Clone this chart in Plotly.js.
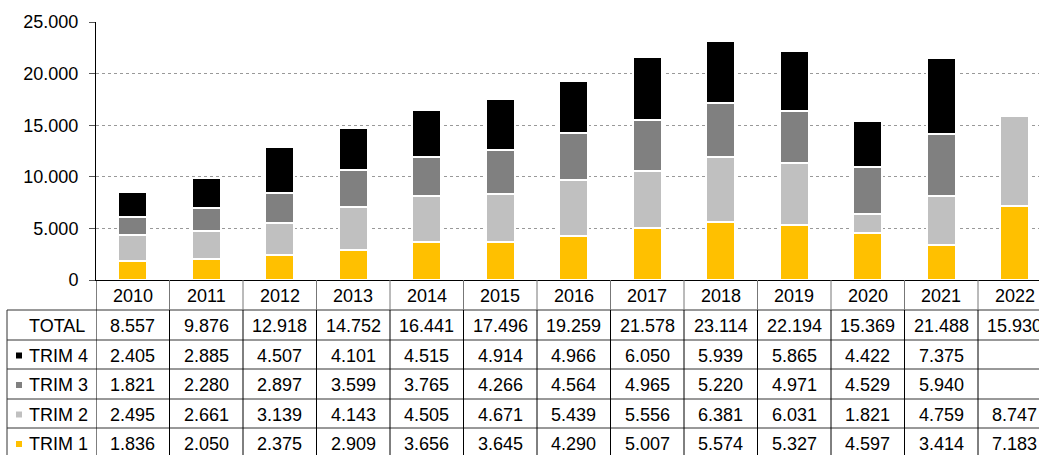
<!DOCTYPE html>
<html>
<head>
<meta charset="utf-8">
<script src="https://cdn.plot.ly/plotly-3.0.1.min.js"></script>
<style>html,body{margin:0;padding:0;background:#fff;}#chart{width:1039px;height:455px;}</style>
</head>
<body>
<div id="chart"></div>
<script>
const years = ['2010','2011','2012','2013','2014','2015','2016','2017','2018','2019','2020','2021','2022'];
const trim1 = [1836, 2050, 2375, 2909, 3656, 3645, 4290, 5007, 5574, 5327, 4597, 3414, 7183];
const trim2 = [2495, 2661, 3139, 4143, 4505, 4671, 5439, 5556, 6381, 6031, 1821, 4759, 8747];
const trim3 = [1821, 2280, 2897, 3599, 3765, 4266, 4564, 4965, 5220, 4971, 4529, 5940, null];
const trim4 = [2405, 2885, 4507, 4101, 4515, 4914, 4966, 6050, 5939, 5865, 4422, 7375, null];
const totals = [8557, 9876, 12918, 14752, 16441, 17496, 19259, 21578, 23114, 22194, 15369, 21488, 15930];
const seriesNames = ['TRIM 1','TRIM 2','TRIM 3','TRIM 4'];
const seriesColors = ['#FFC000','#C0C0C0','#808080','#000000'];
const seriesData = [trim1, trim2, trim3, trim4];

// geometry (pixels)
const W = 1039, H = 455, L = 96, T = 22, B = 280;
const plotW = W - L, plotH = B - T;
const px = p => (p - L) / plotW;       // pixel x -> paper
const py = p => (B - p) / plotH;       // pixel y -> paper
const FONT = 'Liberation Sans, Arial, sans-serif';
const FS = 18;

const traces = seriesData.map((d, i) => ({
  type: 'bar', x: years, y: d, name: seriesNames[i],
  marker: {color: seriesColors[i], line: {color: '#ffffff', width: 2}},
  width: 0.4, hoverinfo: 'skip'
}));

// table rows (top to bottom): TOTAL, TRIM 4, TRIM 3, TRIM 2, TRIM 1
const rowLines = [280, 310, 340, 369, 399, 428, 458];
const rows = [
  {label: 'TOTAL', vals: totals, color: null},
  {label: 'TRIM 4', vals: trim4, color: seriesColors[3]},
  {label: 'TRIM 3', vals: trim3, color: seriesColors[2]},
  {label: 'TRIM 2', vals: trim2, color: seriesColors[1]},
  {label: 'TRIM 1', vals: trim1, color: seriesColors[0]}
];
const fmt = v => (v === null || v === undefined) ? '' : v.toLocaleString('de-DE');

const shapes = [];
const annotations = [];
// horizontal lines
for (let r = 1; r < rowLines.length; r++) {
  shapes.push({type:'line', xref:'paper', yref:'paper', x0: px(7), x1: 1.05, y0: py(rowLines[r]), y1: py(rowLines[r]), line:{color:'#333', width:1}});
}
// vertical lines at category boundaries
for (let k = 0; k <= years.length; k++) {
  const xx = k - 0.5;
  shapes.push({type:'line', xref:'x', yref:'paper', x0: xx, x1: xx, y0: py(280), y1: py(310), line:{color: k === 0 ? '#000' : '#777', width:1}});
  shapes.push({type:'line', xref:'x', yref:'paper', x0: xx, x1: xx, y0: py(310), y1: py(458), line:{color:'#000', width:1}});
}
// left border of label column
shapes.push({type:'line', xref:'paper', yref:'paper', x0: px(7), x1: px(7), y0: py(310), y1: py(458), line:{color:'#333', width:1}});

// header years
years.forEach((yr, i) => {
  annotations.push({xref:'x', yref:'paper', x: i, y: py(296), text: yr, showarrow:false, xanchor:'center', yanchor:'middle', font:{family:FONT, size:FS, color:'#000'}});
});
// rows
rows.forEach((row, r) => {
  const cy = (rowLines[r+1] + rowLines[r+2]) / 2 + 1;
  if (row.color) {
    annotations.push({xref:'paper', yref:'paper', x: px(27), y: py(cy), text: row.label, showarrow:false, xanchor:'left', yanchor:'middle', font:{family:FONT, size:FS, color:'#000'}});
    shapes.push({type:'rect', xref:'paper', yref:'paper', x0: px(16), x1: px(22), y0: py(cy - 3), y1: py(cy + 3), fillcolor: row.color, line:{width:0}});
  } else {
    annotations.push({xref:'paper', yref:'paper', x: px(87), y: py(cy), text: row.label, showarrow:false, xanchor:'right', yanchor:'middle', font:{family:FONT, size:FS, color:'#000'}});
  }
  row.vals.forEach((v, i) => {
    annotations.push({xref:'x', yref:'paper', x: i, y: py(cy), text: fmt(v), showarrow:false, xanchor:'center', yanchor:'middle', font:{family:FONT, size:FS, color:'#000'}});
  });
});

const layout = {
  width: W, height: H,
  margin: {l: L, r: 0, t: T, b: H - B, pad: 0},
  paper_bgcolor: '#fff', plot_bgcolor: '#fff',
  barmode: 'stack', showlegend: false,
  separators: ',.',
  font: {family: FONT, size: FS, color: '#000'},
  xaxis: {type:'category', range: [-0.5, -0.5 + plotW / 73.5], showticklabels: false, ticks: '', showgrid: false, zeroline: false, showline: true, linecolor: '#000', linewidth: 1, fixedrange: true},
  yaxis: {range: [0, 25000], tickvals: [0, 5000, 10000, 15000, 20000, 25000], tickformat: ',d', ticks: 'outside', ticklen: 6, tickcolor: '#555', ticklabelstandoff: 7, showline: true, linecolor: '#000', linewidth: 1, showgrid: true, gridcolor: '#999', griddash: 'dot', gridwidth: 1, zeroline: false, tickfont: {family: FONT, size: FS, color: '#000'}, fixedrange: true},
  shapes: shapes,
  annotations: annotations
};

Plotly.newPlot('chart', traces, layout, {displayModeBar: false, staticPlot: true});
</script>
</body>
</html>
